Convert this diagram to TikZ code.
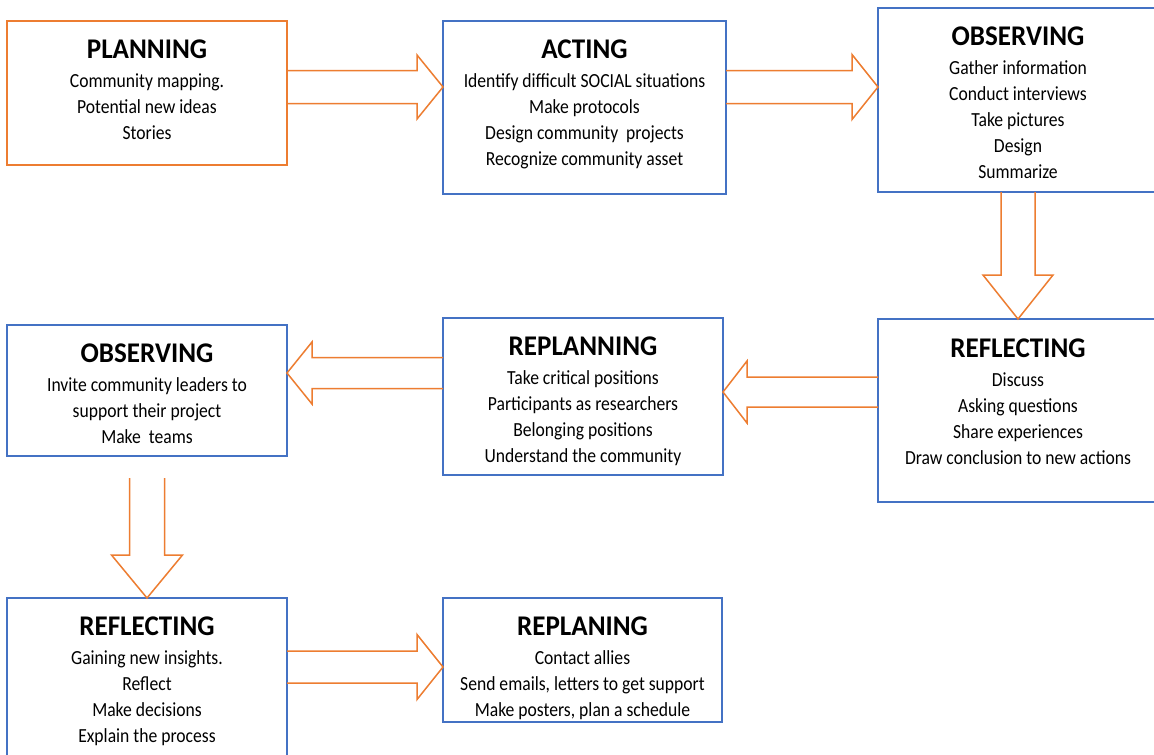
\documentclass[tikz,border=0pt]{standalone}
\usepackage{graphicx}
\usepackage{fontspec}
\setmainfont{Carlito}
\usetikzlibrary{calc}
\definecolor{acorange}{HTML}{ED7D31}
\definecolor{acblue}{HTML}{4472C4}
\tikzset{
  stage/.style={draw=acblue, line width=1.5pt, rectangle, inner sep=0pt, outer sep=0pt},
  stageo/.style={stage, draw=acorange},
  blockarrow/.style={draw=acorange, line width=1.5pt, line join=miter},
  ttl/.style={anchor=base, inner sep=0pt, font=\fontsize{28.5}{30}\selectfont\bfseries},
  itm/.style={anchor=base, inner sep=0pt, font=\fontsize{20}{24}\selectfont},
}
% title and item lines of a stage: name, centre x, title baseline, title, items
\newcommand\stagetext[5]{%
  \node[ttl] (#1-t) at (#2,#3) {\scalebox{0.95}[1]{#4}};
  \foreach \txt [count=\k] in {#5} {\node[itm] (#1-\k) at (#2,{#3+29+26*(\k-1)}) {\scalebox{0.88}[1]{\txt}};}
}
% horizontal block arrow: start, tip, shaft half width, head base offset, head half width
\newcommand\harrow[5]{%
  \draw[blockarrow] ($(#1)+(0,-#3)$) -- ($(#2)+(#4,-#3)$) -- ($(#2)+(#4,-#5)$) -- (#2)
    -- ($(#2)+(#4,#5)$) -- ($(#2)+(#4,#3)$) -- ($(#1)+(0,#3)$);
}
% vertical block arrow
\newcommand\varrow[5]{%
  \draw[blockarrow] ($(#1)+(-#3,0)$) -- ($(#2)+(-#3,#4)$) -- ($(#2)+(-#5,#4)$) -- (#2)
    -- ($(#2)+(#5,#4)$) -- ($(#2)+(#3,#4)$) -- ($(#1)+(#3,0)$);
}
\begin{document}
\begin{tikzpicture}[x=1pt, y=-1pt]
  \clip (0,0) rectangle (1154,755);
  \fill[white] (0,0) rectangle (1154,755);

  % stage boxes
  \node[stageo, minimum width=280pt, minimum height=144pt] (b1) at (147,93) {};
  \node[stage, minimum width=283pt, minimum height=173pt] (b2) at (584.5,107.5) {};
  \node[stage, minimum width=280pt, minimum height=184pt] (b3) at (1018,100) {};
  \node[stage, minimum width=280pt, minimum height=183pt] (b4) at (1018,410.5) {};
  \node[stage, minimum width=280pt, minimum height=157pt] (b5) at (583,396.5) {};
  \node[stage, minimum width=280pt, minimum height=131pt] (b6) at (147,390.5) {};
  \node[stage, minimum width=280pt, minimum height=172pt] (b7) at (147,684) {};
  \node[stage, minimum width=279pt, minimum height=124pt] (b8) at (582.5,660) {};

  % texts
  \stagetext{s1}{147}{58}{PLANNING}{Community mapping.,Potential new ideas,Stories}
  \stagetext{s2}{584.5}{58}{ACTING}{Identify difficult SOCIAL situations,Make protocols,Design community\ \ projects,Recognize community asset}
  \stagetext{s3}{1018}{45}{OBSERVING}{Gather information,Conduct interviews,Take pictures,Design,Summarize}
  \stagetext{s4}{1018}{357}{REFLECTING}{Discuss,Asking questions,Share experiences,Draw conclusion to new actions}
  \stagetext{s5}{583}{355}{REPLANNING}{Take critical positions,Participants as researchers,Belonging positions,Understand the community}
  \stagetext{s6}{147}{362}{OBSERVING}{Invite community leaders to,support their project,Make\ \ teams}
  \stagetext{s7}{147}{635}{REFLECTING}{Gaining new insights.,Reflect,Make decisions,Explain the process}
  \stagetext{s8}{582.5}{635}{REPLANING}{Contact allies,{Send emails, letters to get support},{Make posters, plan a schedule}}

  % arrow end points
  \coordinate (a1s) at ($(b1.east)+(0,-6)$);
  \coordinate (a1e) at (b2.west |- a1s);
  \coordinate (a2s) at ($(b2.east)+(0,-20.5)$);
  \coordinate (a2e) at (b3.west |- a2s);
  \coordinate (a4s) at ($(b4.west)+(0,-18.5)$);
  \coordinate (a4e) at (b5.east |- a4s);
  \coordinate (a5s) at ($(b5.west)+(0,-23.5)$);
  \coordinate (a5e) at (b6.east |- a5s);
  \coordinate (a6s) at ($(b6.south)+(0,22)$);
  \coordinate (a7s) at ($(b7.east)+(0,-17)$);
  \coordinate (a7e) at (b8.west |- a7s);

  % block arrows
  \harrow{a1s}{a1e}{16.5}{-26}{32}
  \harrow{a2s}{a2e}{16.5}{-26}{32.5}
  \varrow{b3.south}{b4.north}{17}{-44}{35}
  \harrow{a4s}{a4e}{15}{24}{31}
  \harrow{a5s}{a5e}{15.5}{25}{31}
  \varrow{a6s}{b7.north}{17.5}{-43}{35.5}
  \harrow{a7s}{a7e}{16}{-26}{32.5}
\end{tikzpicture}
\end{document}
